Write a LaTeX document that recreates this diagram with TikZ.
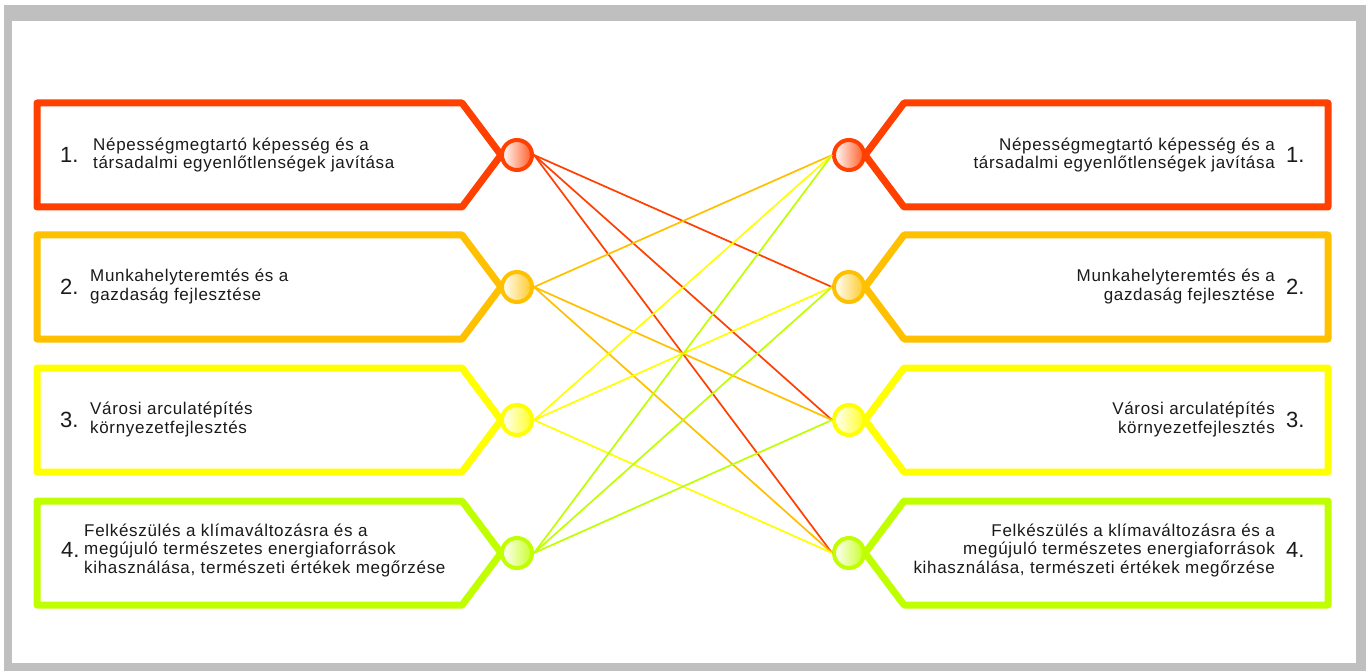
\documentclass[tikz,border=0pt]{standalone}
\usepackage{fontspec}
\setmainfont{Liberation Sans}
\newfontfamily\boxfont[LetterSpace=4]{Liberation Sans}
\definecolor{cA}{HTML}{FF4000}
\definecolor{cB}{HTML}{FFC000}
\definecolor{cC}{HTML}{FFFF00}
\definecolor{cD}{HTML}{BFFF00}
\definecolor{framegray}{HTML}{BFBFBF}
\definecolor{txtc}{HTML}{1A1A1A}
\begin{document}
\begin{tikzpicture}[x=1pt,y=-1pt,
  boxline/.style={line width=7pt, line join=round},
  dot/.style={circle, minimum size=30pt, inner sep=0pt, line width=4pt, draw=#1, left color=white, right color=#1!85!white},
  link/.style={line width=1.7pt, draw=#1},
  num/.style={font=\fontsize{22}{22}\selectfont, text=txtc, inner sep=0pt},
  txtl/.style={font=\boxfont\fontsize{17}{18.3}\selectfont, text=txtc, align=left, inner sep=0pt, anchor=base west},
  txtr/.style={font=\boxfont\fontsize{17}{18.3}\selectfont, text=txtc, align=right, inner sep=0pt, anchor=base east}]
\useasboundingbox (0,0) rectangle (1368,671);
% frame
\fill[framegray] (4,5) rectangle (1366,671);
\fill[white] (12,21) rectangle (1356,663);
% boxes
\foreach \c/\y in {cA/155, cB/287, cC/420, cD/553}{
  \draw[boxline, draw=\c] (37,\y-52) -- (462,\y-52) -- (501,\y) -- (462,\y+52) -- (37,\y+52) -- cycle;
  \draw[boxline, draw=\c] (1328,\y-52) -- (904,\y-52) -- (865,\y) -- (904,\y+52) -- (1328,\y+52) -- cycle;
}
% circles
\node[dot=cA] (L1) at (517,155) {};
\node[dot=cB] (L2) at (517,287) {};
\node[dot=cC] (L3) at (517,420) {};
\node[dot=cD] (L4) at (517,553) {};
\node[dot=cA] (R1) at (849,155) {};
\node[dot=cB] (R2) at (849,287) {};
\node[dot=cC] (R3) at (849,420) {};
\node[dot=cD] (R4) at (849,553) {};
% links
\draw[link=cA] (L1.east) -- (R2.west);
\draw[link=cA] (L1.east) -- (R3.west);
\draw[link=cA] (L1.east) -- (R4.west);
\draw[link=cB] (L2.east) -- (R1.west);
\draw[link=cB] (L2.east) -- (R3.west);
\draw[link=cB] (L2.east) -- (R4.west);
\draw[link=cC] (L3.east) -- (R1.west);
\draw[link=cC] (L3.east) -- (R2.west);
\draw[link=cC] (L3.east) -- (R4.west);
\draw[link=cD] (L4.east) -- (R1.west);
\draw[link=cD] (L4.east) -- (R2.west);
\draw[link=cD] (L4.east) -- (R3.west);
% left texts (base = last line)
\node[num, anchor=base west] (n1) at (60,163) {1.};
\node[txtl] (t1) at (93,168.5) {Népességmegtartó képesség és a\\társadalmi egyenlőtlenségek javítása};
\node[num, anchor=base west] (n2) at (60,294) {2.};
\node[txtl] (t2) at (90,300) {Munkahelyteremtés és a\\gazdaság fejlesztése};
\node[num, anchor=base west] (n3) at (60,427) {3.};
\node[txtl] (t3) at (90,433) {Városi arculatépítés\\környezetfejlesztés};
\node[num, anchor=base west] (n4) at (61,557) {4.};
\node[txtl] (t4) at (84,573) {Felkészülés a klímaváltozásra és a\\megújuló természetes energiaforrások\\kihasználása, természeti értékek megőrzése};
% right texts
\node[num, anchor=base west] (m1) at (1286,163) {1.};
\node[txtr] (s1) at (1275,168.5) {Népességmegtartó képesség és a\\társadalmi egyenlőtlenségek javítása};
\node[num, anchor=base west] (m2) at (1286,294) {2.};
\node[txtr] (s2) at (1275,300) {Munkahelyteremtés és a\\gazdaság fejlesztése};
\node[num, anchor=base west] (m3) at (1286,427) {3.};
\node[txtr] (s3) at (1275,433) {Városi arculatépítés\\környezetfejlesztés};
\node[num, anchor=base west] (m4) at (1286,557) {4.};
\node[txtr] (s4) at (1275,573) {Felkészülés a klímaváltozásra és a\\megújuló természetes energiaforrások\\kihasználása, természeti értékek megőrzése};
\end{tikzpicture}
\end{document}
